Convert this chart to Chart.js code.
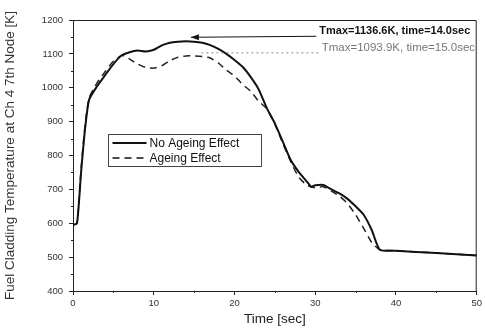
<!DOCTYPE html>
<html>
<head>
<meta charset="utf-8">
<script src="https://cdn.jsdelivr.net/npm/chart.js@4.4.0/dist/chart.umd.min.js"></script>
<style>
  body { margin: 0; background: #fff; }
  #wrap { width: 485px; height: 331px; }
</style>
</head>
<body>
<div id="wrap"><canvas id="grafico"></canvas></div>
<script>
// tempo [s] e temperatura [K]
var tempoNoAge = [0, 0.5, 1, 1.5, 2, 3, 4, 5, 6, 7, 8, 9, 10, 11, 12, 13, 14, 15, 16, 17, 18, 19, 20, 21, 22, 23, 24, 25, 26, 27, 28, 29, 29.5, 30, 31, 32, 33, 34, 35, 36, 37, 38, 40, 45, 50];
var tempNoAge  = [595, 600, 750, 880, 965, 1005, 1038, 1070, 1095, 1105, 1110, 1107, 1112, 1125, 1133, 1136, 1137, 1136, 1133, 1126, 1115, 1100, 1082, 1062, 1032, 995, 940, 895, 840, 785, 750, 722, 708, 712, 713, 700, 688, 672, 650, 625, 580, 522, 519, 512, 505];

var tempoAge = [0, 0.5, 1, 1.5, 2, 3, 4, 5, 6, 6.5, 7, 8, 9, 10, 11, 12, 13, 14, 15, 16, 17, 18, 19, 20, 21, 22, 23, 24, 25, 26, 27, 28, 29, 30, 31, 32, 33, 34, 35, 36, 37, 38, 40, 45, 50];
var tempAge  = [595, 600, 760, 890, 970, 1015, 1048, 1078, 1095, 1093, 1085, 1070, 1060, 1058, 1065, 1080, 1090, 1094, 1094, 1092, 1088, 1073, 1052, 1035, 1010, 990, 960, 938, 892, 835, 780, 735, 712, 705, 708, 695, 680, 658, 625, 585, 543, 522, 519, 512, 505];

var nomiSerie = ['No Ageing Effect', 'Ageing Effect'];
var xTicks = [0, 10, 20, 30, 40, 50];
var yTicks = [400, 500, 600, 700, 800, 900, 1000, 1100, 1200];
var etichetteMax = ['Tmax=1136.6K, time=14.0sec', 'Tmax=1093.9K, time=15.0sec'];

function punti(xs, ys) {
  var out = [];
  for (var i = 0; i < xs.length; i++) {
    out.push({x: xs[i], y: ys[i]});
  }
  return out;
}

var FONT = "'Liberation Sans', Arial, sans-serif";

// tacche minori, bordo, legenda e frecce
var extraPlugin = {
  id: 'extra',
  afterDatasetsDraw: function(chart) {
    var ctx = chart.ctx;
    var a = chart.chartArea;
    var xs = chart.scales.x, ys = chart.scales.y;
    ctx.save();
    ctx.strokeStyle = '#222';
    ctx.lineWidth = 1;
    // bordo sopra e destra
    ctx.beginPath();
    ctx.moveTo(a.left, a.top + 0.5);
    ctx.lineTo(a.right - 0.5, a.top + 0.5);
    ctx.lineTo(a.right - 0.5, a.bottom);
    ctx.stroke();
    // tacche minori
    ctx.beginPath();
    for (var t = 5; t < 50; t += 10) {
      var px = Math.round(xs.getPixelForValue(t)) + 0.5;
      ctx.moveTo(px, a.bottom);
      ctx.lineTo(px, a.bottom + 2);
    }
    for (var v = 450; v < 1200; v += 100) {
      var py = Math.round(ys.getPixelForValue(v)) + 0.5;
      ctx.moveTo(a.left - 2, py);
      ctx.lineTo(a.left, py);
    }
    ctx.stroke();

    // legenda
    var lx = 108.5, ly = 134.5, lw = 153, lh = 32;
    ctx.strokeStyle = '#444';
    ctx.strokeRect(lx, ly, lw, lh);
    ctx.font = '12px ' + FONT;
    ctx.textBaseline = 'middle';
    ctx.fillStyle = '#111';
    for (var i = 0; i < chart.data.datasets.length; i++) {
      var ds = chart.data.datasets[i];
      var ry = ly + 8.5 + i * 15;
      ctx.beginPath();
      ctx.strokeStyle = '#111';
      ctx.lineWidth = ds.borderWidth;
      ctx.setLineDash(ds.borderDash || []);
      ctx.moveTo(lx + 4, ry);
      ctx.lineTo(lx + 38, ry);
      ctx.stroke();
      ctx.setLineDash([]);
      ctx.fillText(ds.label, lx + 41, ry + 0.5);
    }

    // annotazioni dei massimi
    var tipX = xs.getPixelForValue(14.6), tipY = ys.getPixelForValue(1149);
    var txtX = xs.getPixelForValue(30.5);
    ctx.strokeStyle = '#111';
    ctx.lineWidth = 1;
    ctx.beginPath();
    ctx.moveTo(tipX, tipY);
    ctx.lineTo(txtX - 3, tipY - 1);
    ctx.stroke();
    ctx.beginPath();
    ctx.moveTo(tipX, tipY);
    ctx.lineTo(tipX + 8, tipY - 3);
    ctx.lineTo(tipX + 8, tipY + 3);
    ctx.closePath();
    ctx.fillStyle = '#111';
    ctx.fill();
    ctx.font = 'bold 11px ' + FONT;
    ctx.textAlign = 'left';
    ctx.fillText(etichetteMax[0], txtX, tipY - 6);

    var tip2X = xs.getPixelForValue(15.9), tip2Y = ys.getPixelForValue(1103);
    var txt2X = xs.getPixelForValue(30.8);
    ctx.strokeStyle = '#888';
    ctx.setLineDash([2, 3]);
    ctx.beginPath();
    ctx.moveTo(tip2X, tip2Y);
    ctx.lineTo(txt2X - 3, tip2Y);
    ctx.stroke();
    ctx.setLineDash([]);
    ctx.fillStyle = '#777';
    ctx.font = '11.5px ' + FONT;
    ctx.fillText(etichetteMax[1], txt2X, tip2Y - 5);
    ctx.restore();
  }
};

var grafico = new Chart(document.getElementById('grafico'), {
  type: 'line',
  data: {
    datasets: [{
      label: nomiSerie[0],
      data: punti(tempoNoAge, tempNoAge),
      borderColor: '#111',
      borderWidth: 2,
      pointRadius: 0,
      tension: 0.2,
      fill: false
    }, {
      label: nomiSerie[1],
      data: punti(tempoAge, tempAge),
      borderColor: '#222',
      borderWidth: 1.5,
      borderDash: [7, 5],
      pointRadius: 0,
      tension: 0.2,
      fill: false
    }]
  },
  options: {
    responsive: true,
    maintainAspectRatio: false,
    animation: false,
    layout: { padding: { top: 20, right: 3, left: 0, bottom: 0 } },
    plugins: {
      legend: { display: false },
      tooltip: { enabled: false }
    },
    scales: {
      x: {
        type: 'linear',
        min: 0,
        max: 50,
        afterBuildTicks: function(s) { s.ticks = xTicks.map(function(v){ return {value: v}; }); },
        afterFit: function(s) { s.height = 40; },
        grid: { drawOnChartArea: false, tickLength: 4, color: '#222' },
        border: { color: '#222', width: 1 },
        ticks: { color: '#333', padding: 3, font: { family: FONT, size: 9.5 }, callback: function(v) { return String(v); } },
        title: { display: true, text: 'Time [sec]', color: '#222', padding: { top: 0, bottom: 4 }, font: { family: FONT, size: 13.5 } }
      },
      y: {
        min: 400,
        max: 1200,
        afterBuildTicks: function(s) { s.ticks = yTicks.map(function(v){ return {value: v}; }); },
        afterFit: function(s) { s.width = 73; },
        grid: { drawOnChartArea: false, tickLength: 4, color: '#222' },
        border: { color: '#222', width: 1 },
        ticks: { color: '#333', padding: 6, font: { family: FONT, size: 9.5 }, callback: function(v) { return String(v); } },
        title: { display: true, text: 'Fuel Cladding Temperature at Ch 4 7th Node [K]', color: '#333', padding: 2, font: { family: FONT, size: 13.5 } }
      }
    }
  },
  plugins: [extraPlugin]
});
</script>
</body>
</html>
